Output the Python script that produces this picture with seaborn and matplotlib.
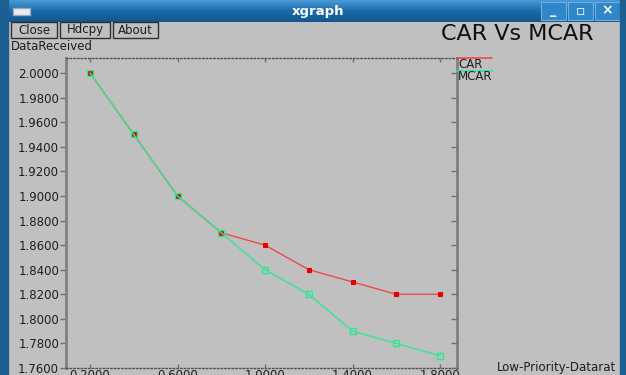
import numpy as np
import pandas as pd
import seaborn as sns
import matplotlib.pyplot as plt
from matplotlib.patches import Rectangle

# values
rate = [0.2, 0.4, 0.6, 0.8, 1.0, 1.2, 1.4, 1.6, 1.8]
car = [2.00, 1.95, 1.90, 1.87, 1.86, 1.84, 1.83, 1.82, 1.82]
mcar = [2.00, 1.95, 1.90, 1.87, 1.84, 1.82, 1.79, 1.78, 1.77]
xticks = [0.2, 0.6, 1.0, 1.4, 1.8]
yticks = [1.76, 1.78, 1.80, 1.82, 1.84, 1.86, 1.88, 1.90, 1.92, 1.94, 1.96, 1.98, 2.00]

df = pd.concat([
    pd.DataFrame({'rate': rate, 'recv': car, 'proto': 'CAR'}),
    pd.DataFrame({'rate': rate, 'recv': mcar, 'proto': 'MCAR'}),
])

sns.set_style('white')
plt.rcParams['font.family'] = ['DejaVu Sans']

BG = '#c0c0c0'
TXT = '#1e1e1e'
RED = '#f04848'
GRN = '#30e890'
W, H = 626, 375
fig = plt.figure(figsize=(W / 100, H / 100), dpi=100, facecolor=BG)


def px(x, y):
    return x / W, 1 - y / H


# window chrome
fig.patches.append(Rectangle((0, 0), 8 / W, 1, transform=fig.transFigure,
                             color='#1c5f93', zorder=0))
fig.patches.append(Rectangle((620 / W, 0), 6 / W, 1, transform=fig.transFigure,
                             color='#1c5f93', zorder=0))
bar = fig.add_axes([0, 1 - 22 / H, 1, 22 / H])
grad = np.linspace(0, 1, 40).reshape(-1, 1)
bar.imshow(grad, aspect='auto',
           cmap=sns.blend_palette(['#4a9ad8', '#1b6aa8', '#14568c'], as_cmap=True),
           extent=[0, W, 22, 0])
bar.set_xlim(0, W)
bar.set_ylim(22, 0)
bar.axis('off')
bar.add_patch(Rectangle((13, 8), 17, 7, facecolor='#e8eef4', edgecolor='#9ab'))
bar.text(318, 11, 'xgraph', color='white', fontweight='bold', fontsize=9.5,
         ha='center', va='center')
for i, sym in enumerate(['_', '▫', '×']):
    bx = 541 + i * 27
    bar.add_patch(Rectangle((bx, 2), 25, 18, facecolor='#2f86c8', edgecolor='#6fb0e0', lw=0.8))
    bar.text(bx + 12.5, 10.5, sym, color='white', fontsize=10 if sym != '_' else 9,
             fontweight='bold', ha='center', va='center')

# Close / Hdcpy / About buttons
for label, bx0, bx1 in [('Close', 11, 57), ('Hdcpy', 60, 110), ('About', 113, 158)]:
    fig.patches.append(Rectangle(px(bx0, 38), (bx1 - bx0) / W, 16 / H,
                                 transform=fig.transFigure, facecolor=BG,
                                 edgecolor='#303030', lw=1.0))
    fig.text(*px((bx0 + bx1) / 2, 30), label, fontsize=8.5, color=TXT,
             va='center', ha='center')
fig.text(*px(11, 46), 'DataReceived', fontsize=8.5, color=TXT, va='center')
fig.text(*px(517, 34), 'CAR Vs MCAR', fontsize=16, color='#101010', va='center', ha='center')
fig.text(*px(497, 368), 'Low-Priority-Datarat', fontsize=8.5, color=TXT, va='center')

# plot area
ax = fig.add_axes([66 / W, 7 / H, (457 - 66) / W, (368 - 58) / H])
ax.set_facecolor(BG)
sns.lineplot(data=df, x='rate', y='recv', hue='proto',
             palette={'CAR': RED, 'MCAR': GRN},
             style='proto', markers={'CAR': 's', 'MCAR': 's'}, dashes=False,
             linewidth=1.0, legend=False, ax=ax)
car_ln, mcar_ln = ax.lines[0], ax.lines[1]
car_ln.set_markersize(2.6)
car_ln.set_markerfacecolor('#e80000')
car_ln.set_markeredgecolor('#e80000')
mcar_ln.set_markersize(4.2)
mcar_ln.set_markerfacecolor('none')
mcar_ln.set_markeredgecolor(GRN)
mcar_ln.set_markeredgewidth(1.0)

ax.set_xlim(0.2 - 24 / 218.75, 1.8 + 17 / 218.75)
ax.set_ylim(1.76, 2.0 + 15 / 1229)
ax.set_xticks(xticks)
ax.set_xticklabels([f'{v:.4f}' for v in xticks])
ax.set_yticks(yticks)
ax.set_yticklabels([f'{v:.4f}' for v in yticks])
ax.set_xlabel('')
ax.set_ylabel('')
ax.tick_params(axis='y', labelsize=8.5, labelcolor=TXT, color='#707070',
               length=4, width=1, direction='out', pad=1)
ax.tick_params(axis='x', labelsize=8.5, labelcolor=TXT, color='#707070',
               top=True, bottom=True, direction='in', length=3, width=1, pad=1)
for side in ['left', 'right']:
    ax.spines[side].set_color('#808080')
    ax.spines[side].set_linewidth(2)
for side in ['top', 'bottom']:
    ax.spines[side].set_color('#505050')
    ax.spines[side].set_linewidth(1)
    ax.spines[side].set_linestyle(':')

# inward ticks on the right edge
rax = ax.twinx()
rax.set_ylim(ax.get_ylim())
rax.set_yticks(yticks)
rax.set_yticklabels([])
rax.tick_params(axis='y', direction='in', length=4, width=1, color='#707070')
for s in rax.spines.values():
    s.set_visible(False)

# legend in xgraph style
fig.lines.append(plt.Line2D([457 / W, 492 / W], [1 - 58 / H] * 2, transform=fig.transFigure,
                            color=RED, lw=1.2))
fig.lines.append(plt.Line2D([457 / W, 492 / W], [1 - 71 / H] * 2, transform=fig.transFigure,
                            color=GRN, lw=1.2))
fig.text(*px(458, 64), 'CAR', fontsize=8.5, color=TXT, va='center')
fig.text(*px(458, 76.5), 'MCAR', fontsize=8.5, color=TXT, va='center')

fig.savefig('out.png', dpi=100, facecolor=BG)
